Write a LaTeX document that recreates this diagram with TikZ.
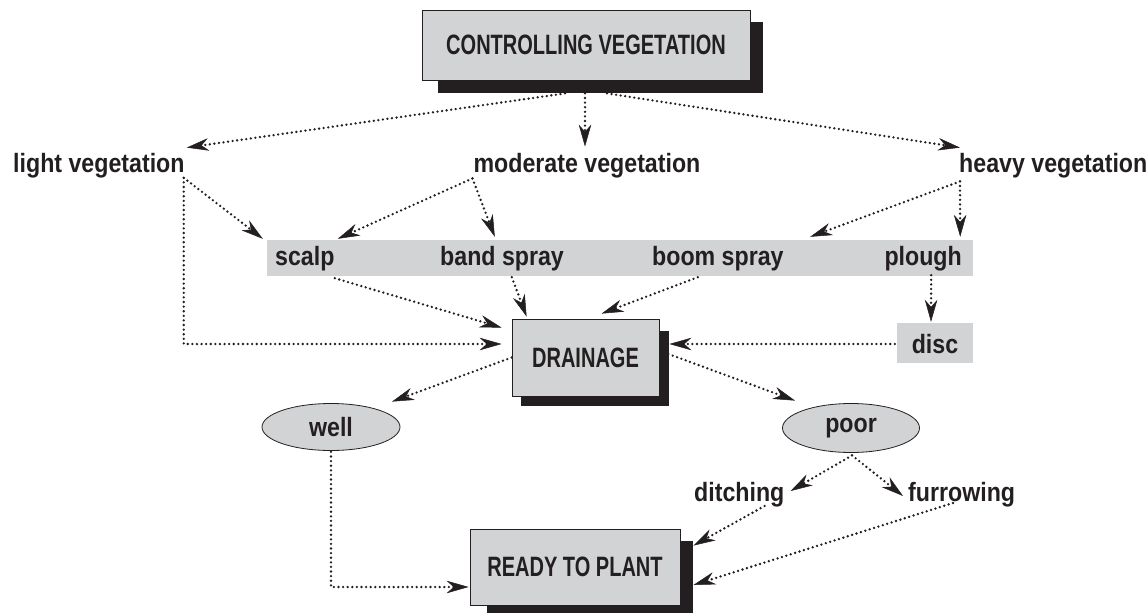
\documentclass[tikz,border=0pt]{standalone}
\usepackage{fontspec}
\setmainfont{Liberation Sans}[FakeStretch=0.875]
\newfontfamily\capsfont{Liberation Sans}[FakeStretch=0.715]
\usetikzlibrary{arrows.meta,shapes.geometric,calc}
\pgfdeclarelayer{background}
\pgfsetlayers{background,main}
\definecolor{ink}{HTML}{231F20}
\definecolor{boxgray}{HTML}{D1D3D4}
\tikzset{
  lbl/.style={inner sep=0pt, text=ink, font=\bfseries\fontsize{26.5}{29}\selectfont},
  bigbox/.style={draw=ink, line width=0.8pt, fill=boxgray, inner sep=0pt,
     text=ink, font=\capsfont\bfseries\fontsize{28}{30}\selectfont},
  shade/.style={fill=ink, draw=none},
  graybox/.style={fill=boxgray, inner sep=0pt},
  oval/.style={ellipse, draw=ink, line width=0.8pt, fill=boxgray, inner sep=0pt,
     text=ink, font=\bfseries\fontsize{26.5}{29}\selectfont},
  link/.style={draw=ink, line width=2.6pt, line cap=round, dash pattern=on 0pt off 4.6pt,
     -{Stealth[length=22pt,width=12.5pt,inset=7pt,fill=ink,line width=0.5pt]}},
}
\begin{document}
\begin{tikzpicture}[x=1pt,y=-1pt]
\useasboundingbox (0,0) rectangle (1148,613);
% boxes
\node[bigbox, minimum width=328, minimum height=70] (cv) at (586,45) {CONTROLLING VEGETATION};
\node[graybox, minimum width=706, minimum height=36] (band) at (620,258) {};
\node[graybox, minimum width=76, minimum height=40] (disc) at (935,343) {};
\node[lbl] (disctxt) at (935,344) {disc};
\node[bigbox, minimum width=147, minimum height=77] (drain) at (585.5,357.5) {DRAINAGE};
\node[bigbox, minimum width=210, minimum height=76] (ready) at (575,567) {READY TO PLANT};
\node[oval, minimum width=138, minimum height=47] (well) at (331,427) {well};
\node[oval, minimum width=137, minimum height=49] (poor) at (851,428) {poor};
% shadows
\begin{pgfonlayer}{background}
\fill[shade] ($(cv.south west)+(16,13)$) rectangle ($(cv.north east)+(13,12)$);
\fill[shade] ($(drain.south west)+(9,10)$) rectangle ($(drain.north east)+(10,12)$);
\fill[shade] ($(ready.south west)+(17,8)$) rectangle ($(ready.north east)+(13,12)$);
\end{pgfonlayer}
% labels
\node[lbl, anchor=base west] (light) at (13,172) {light vegetation};
\node[lbl, anchor=base] (moderate) at (587,172) {moderate vegetation};
\node[lbl, anchor=base west] (heavy) at (959,172) {heavy vegetation};
\node[lbl, anchor=base west] (scalp) at (275,265) {scalp};
\node[lbl, anchor=base west] (bandspray) at (440,265) {band spray};
\node[lbl, anchor=base west] (boomspray) at (652,265) {boom spray};
\node[lbl, anchor=base east] (plough) at (962,265) {plough};
\node[lbl, anchor=base west] (ditching) at (694,501) {ditching};
\node[lbl, anchor=base west] (furrowing) at (908,501) {furrowing};
% connectors
\draw[link] ($(cv.south)+(-21,13)$) -- ($(light.north east)+(2,-5)$);
\draw[link] ($(cv.south)+(-1,13)$) -- ($(moderate.north)+(-2,-6)$);
\draw[link] ($(cv.south)+(21,13)$) -- ($(heavy.north west)+(1,-5)$);
\draw[link] ($(light.south east)+(-1,0)$) -- ($(band.north west)+(-4,-1)$);
\draw[link] ($(light.south east)+(-1,0)$) |- ($(drain.west)+(-10,-13.5)$);
\draw[link] ($(moderate.south west)+(-1,0.6)$) -- ($(band.north west)+(71,-1)$);
\draw[link] ($(moderate.south west)+(-1,0.6)$) -- ($(band.north west)+(228,-3)$);
\draw[link] ($(heavy.south west)+(1,3.6)$) -- ($(band.north east)+(-163,-3)$);
\draw[link] ($(heavy.south west)+(1,3.6)$) -- ($(band.north east)+(-13,-3)$);
\draw[link] ($(band.south west)+(68,2)$) -- ($(drain.north west)+(-10,9)$);
\draw[link] ($(band.south west)+(245,1)$) -- ($(drain.north west)+(15,-2)$);
\draw[link] ($(band.south west)+(431,1)$) -- ($(drain.north west)+(90,-5)$);
\draw[link] ($(band.south east)+(-42,-1)$) -- ($(disc.north)+(-4,-1)$);
\draw[link] ($(disc.west)+(-2,1)$) -- ($(drain.east)+(10,-13.5)$);
\draw[link] (drain.west) -- ($(well.north)+(61,-1.5)$);
\draw[link] ($(drain.east)+(9,-3.5)$) -- ($(poor.north)+(-56,-2.5)$);
\draw[link] ($(poor.south)+(1,2.5)$) -- ($(ditching.base east)+(6,-10)$);
\draw[link] ($(poor.south)+(1,2.5)$) -- ($(furrowing.base west)+(-5,-5)$);
\draw[link] ($(ditching.base east)+(-20,5)$) -- ($(ready.north east)+(13,17)$);
\draw[link] ($(furrowing.base west)+(45,2)$) -- ($(ready.east)+(13,18)$);
\draw[link] ($(well.south)+(0,1)$) |- ($(ready.west)+(-1,20)$);
\end{tikzpicture}
\end{document}
